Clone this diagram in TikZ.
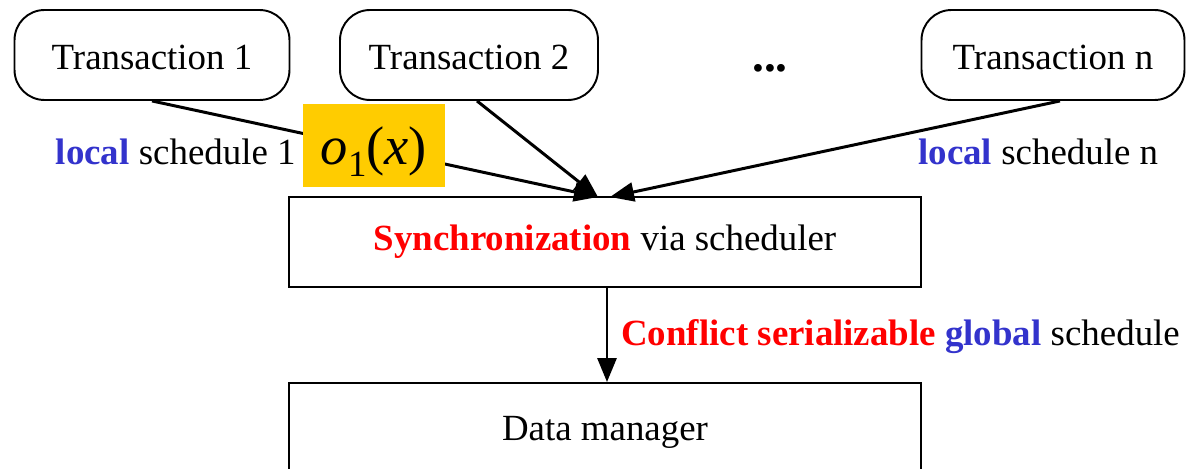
\documentclass[tikz,border=0pt]{standalone}
\usepackage{fontspec}
\setmainfont{Liberation Serif}
\usetikzlibrary{arrows.meta}
\definecolor{locblue}{HTML}{3333CC}
\definecolor{opyellow}{HTML}{FFCC00}
\tikzset{
  txn/.style={draw, line width=1.1pt, rounded corners=0.6cm, minimum height=1.8cm,
    text height=0.6cm, text depth=0cm},
  unit/.style={draw, line width=1.1pt, minimum width=12.64cm},
  flow/.style={line width=1.7pt, -{Triangle[length=0.48cm,width=0.38cm]}},
}
\begin{document}
\begin{tikzpicture}[x=0.02cm, y=-0.02cm, font=\fontsize{21}{25}\selectfont]
    \useasboundingbox (0,0) rectangle (1191,469);
    \clip (0,0) rectangle (1191,469);
    % transactions
    \node[txn, minimum width=5.5cm] (t1) at (152,55) {Transaction 1};
    \node[txn, minimum width=5.16cm] (t2) at (469,55) {Transaction 2};
    \node[font=\bfseries\fontsize{27}{30}\selectfont] (dots) at (770,68) {...};
    \node[txn, minimum width=5.26cm] (tn) at (1053,55) {Transaction n};
    % scheduler and data manager
    \node[unit, minimum height=1.8cm] (sync) at (605,242)
        {\textcolor{red}{\textbf{Synchronization}} via scheduler};
    \node[unit, minimum height=1.96cm] (data) at (605,432) {Data manager};
    \coordinate (in1) at (598,197);
    \coordinate (inn) at (610,197);
    \draw[flow] (t1.south) -- (in1);
    \draw[flow] ([xshift=0.16cm]t2.south) -- (in1);
    \draw[flow] ([xshift=0.14cm]tn.south) -- (inn);
    \draw[flow] ([xshift=0.04cm]sync.south) -- ([xshift=0.04cm]data.north);
    % operation on the first local schedule
    \node[fill=opyellow, minimum width=2.84cm, minimum height=1.66cm,
          text height=0.95cm, text depth=0.17cm] (op) at (374,145.5)
        {\fontsize{31}{36}\selectfont\textit{o}\raisebox{-0.22em}{\fontsize{21}{25}\selectfont 1}(\textit{x})};
    % labels
    \node[anchor=base east, inner sep=0pt] (loc1) at (296,165)
        {\textcolor{locblue}{\textbf{local}} schedule 1};
    \node[anchor=base west, inner sep=0pt] (locn) at (918,165)
        {\textcolor{locblue}{\textbf{local}} schedule n};
    \node[anchor=base west, inner sep=0pt] (glob) at (621,346)
        {\textcolor{red}{\textbf{Conflict serializable}} \textcolor{locblue}{\textbf{global}} schedule};
\end{tikzpicture}
\end{document}
